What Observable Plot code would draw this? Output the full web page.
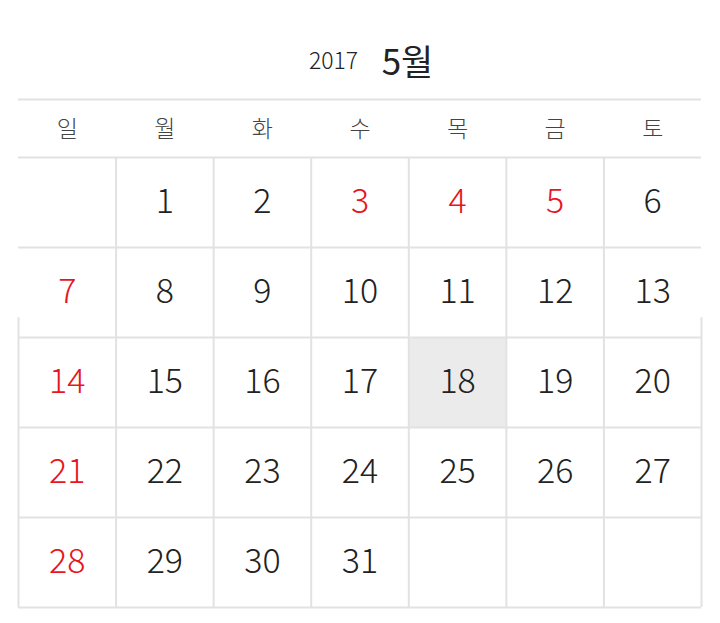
<!DOCTYPE html>
<html><head><meta charset="utf-8">
<script src="https://cdn.jsdelivr.net/npm/d3@7"></script>
<script src="https://cdn.jsdelivr.net/npm/@observablehq/plot@0.6"></script>
<style>body{margin:0;background:#fff;font-family:"Noto Sans CJK KR","Noto Sans",sans-serif}</style>
</head><body><div id="chart"></div>
<script>
const year = "2017";
const month = "5월";
const weekdays = ["일", "월", "화", "수", "목", "금", "토"];
const firstWeekday = 1; // May 1 2017 is Monday
const daysInMonth = 31;
const holidays = [3, 4, 5];
const today = 18;

const days = d3.range(1, daysInMonth + 1).map(d => {
  const i = d - 1 + firstWeekday;
  return { day: d, col: i % 7, row: Math.floor(i / 7) };
});
const isRed = d => d.col === 0 || holidays.includes(d.day);
const HEAD = -0.644;

const chart = Plot.plot({
  width: 720, height: 623,
  margin: 0,
  x: { axis: null, domain: [0, 7], range: [18, 701] },
  y: { axis: null, domain: [0, 5], range: [157, 607] },
  style: { fontFamily: '"Noto Sans CJK KR","Noto Sans",sans-serif', background: "#fff" },
  marks: [
    Plot.rect(days.filter(d => d.day === today), {
      x1: d => d.col, x2: d => d.col + 1, y1: d => d.row, y2: d => d.row + 1, fill: "#ebebeb"
    }),
    Plot.ruleY([HEAD, 0, 1, 2, 3, 4, 5], { x1: 0, x2: 7, stroke: "#e2e2e2", strokeWidth: 2 }),
    Plot.ruleX(d3.range(1, 7), { y1: 0, y2: 5, stroke: "#e2e2e2", strokeWidth: 2 }),
    Plot.ruleX([0, 7], { y1: 1.78, y2: 5, stroke: "#e2e2e2", strokeWidth: 2 }),
    Plot.text(weekdays, {
      x: (d, i) => i + 0.5, y: HEAD / 2, dy: 1, text: d => d, fontSize: 23, fill: "#444", fontWeight: 300
    }),
    Plot.text(days, {
      x: d => d.col + 0.5, y: d => d.row + 0.5, text: "day", fontSize: 34, fontWeight: 300,
      fill: d => isRed(d) ? "#e8141e" : "#222"
    }),
    Plot.text([year], { frameAnchor: "top", dx: -27, dy: 52, text: d => d, fontSize: 23, fill: "#222", fontWeight: 300 }),
    Plot.text([month], { frameAnchor: "top", dx: 47, dy: 50, text: d => d, fontSize: 35, fill: "#222" })
  ]
});
document.getElementById("chart").appendChild(chart);
</script></body></html>
